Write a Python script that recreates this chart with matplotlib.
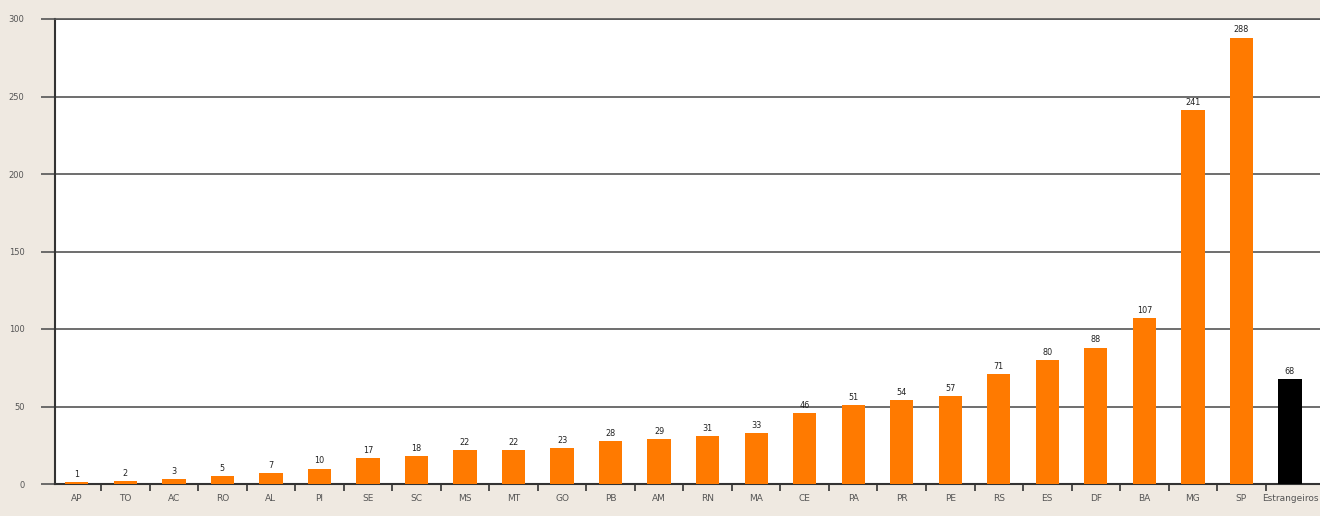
import matplotlib.pyplot as plt
import numpy as np

states = ["AP", "TO", "AC", "RO", "AL", "PI", "SE", "SC", "MS", "MT", "GO", "PB", "AM",
          "RN", "MA", "CE", "PA", "PR", "PE", "RS", "ES", "DF", "BA", "MG", "SP",
          "Estrangeiros"]
counts = [1, 2, 3, 5, 7, 10, 17, 18, 22, 22, 23, 28, 29, 31, 33, 46, 51, 54, 57, 71,
          80, 88, 107, 241, 288, 68]
colors = ["#ff7a00"] * 25 + ["#000000"]

bg = "#efe9e1"
fig = plt.figure(figsize=(13.2, 5.16), dpi=100, facecolor=bg)
ax = fig.add_axes([55 / 1320, 32 / 516, 1265 / 1320, 465 / 516])
ax.set_facecolor("white")

x = np.arange(len(states))
bars = ax.bar(x, counts, width=0.48, color=colors, zorder=3)
for xi, v in zip(x, counts):
    ax.text(xi, v + 2, str(v), ha="center", va="bottom", fontsize=6.5,
            color="#222222", fontstretch="condensed", zorder=4)

ax.set_ylim(0, 300)
ax.set_xlim(-0.45, 25.62)
ax.set_yticks(range(0, 301, 50))
ax.set_yticklabels([str(v) for v in range(0, 301, 50)], fontsize=6, color="#555555")
ax.grid(axis="y", color="#555555", linewidth=1.2, zorder=1)
ax.tick_params(axis="y", length=10, width=1.2, color="#555555", pad=12)

ax.set_xticks(x)
ax.set_xticklabels(states, fontsize=6.5, color="#555555")
ax.set_xticks(x[:-1] + 0.5, minor=True)
ax.tick_params(axis="x", which="major", length=0, pad=7)
ax.tick_params(axis="x", which="minor", length=5, width=1.2, color="#333333")

for side in ["right"]:
    ax.spines[side].set_visible(False)
ax.spines["top"].set_color("#555555")
ax.spines["top"].set_linewidth(1.2)
ax.spines["left"].set_color("#333333")
ax.spines["left"].set_linewidth(1.5)
ax.spines["bottom"].set_color("#333333")
ax.spines["bottom"].set_linewidth(1.5)

fig.savefig("out.png", dpi=100, facecolor=bg)
